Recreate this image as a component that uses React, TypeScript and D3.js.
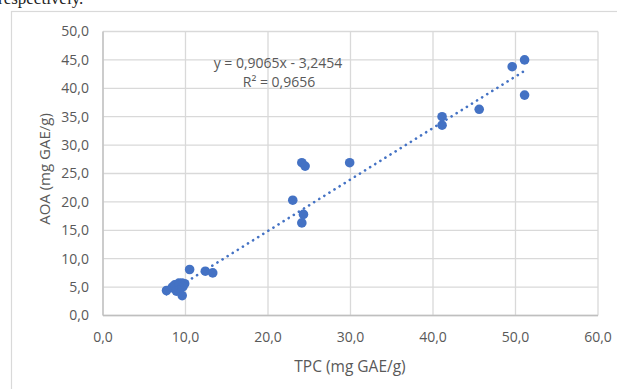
import React from 'react';
import * as d3 from 'd3';

// TPC (x) and AOA (y) values, mg GAE/g
const tpc = [51.1, 49.6, 51.1, 45.6, 41.1, 41.1, 29.9, 24.1, 24.5, 23.0, 24.3, 24.1, 10.5, 12.4, 13.3, 7.7, 8.4, 8.7, 9.2, 9.6, 9.9, 9.7, 8.9, 9.2, 9.6];
const aoa = [45.0, 43.8, 38.8, 36.3, 35.0, 33.5, 26.9, 26.9, 26.3, 20.3, 17.8, 16.3, 8.1, 7.8, 7.5, 4.4, 5.0, 5.4, 5.7, 5.7, 5.6, 5.1, 4.3, 4.4, 3.5];
const xTicks = [0, 10, 20, 30, 40, 50, 60];
const yTicks = [0, 5, 10, 15, 20, 25, 30, 35, 40, 45, 50];
const slope = 0.9065;
const intercept = -3.2454;
const eqLabel = 'y = 0,9065x - 3,2454';
const r2Label = 'R² = 0,9656';

const W = 617;
const H = 389;
const plot = { left: 103, right: 598, top: 31.5, bottom: 315.5 };
const blue = '#4472C4';
const grid = '#d9d9d9';
const txt = '#595959';
const font = '"Open Sans", Calibri, sans-serif';

const fmt = (v: number) => v.toFixed(1).replace('.', ',');

export default function App() {
  const x = d3.scaleLinear().domain([0, 60]).range([plot.left, plot.right]);
  const y = d3.scaleLinear().domain([0, 50]).range([plot.bottom, plot.top]);

  const xMin = d3.min(tpc) as number;
  const xMax = d3.max(tpc) as number;
  const trend = d3.line<number>()
    .x(d => x(d))
    .y(d => y(slope * d + intercept));

  return (
    <svg width={W} height={H} style={{ position: 'absolute', left: 0, top: 0, background: '#fff' }}>
      {/* text above the figure, cut off by the page */}
      <text x={-2} y={4} fontFamily='"Liberation Serif", serif' fontSize={17} fill="#222">respectively.</text>
      <rect x={11.5} y={11.5} width={640} height={420} fill="#fff" stroke={grid} strokeWidth={1.2} />

      {/* gridlines */}
      {yTicks.map(t => (
        <line key={'gy' + t} x1={plot.left} x2={plot.right} y1={y(t)} y2={y(t)} stroke={grid} strokeWidth={1.3} />
      ))}
      {xTicks.map(t => (
        <line key={'gx' + t} x1={x(t)} x2={x(t)} y1={plot.top} y2={plot.bottom} stroke={grid} strokeWidth={1.3} />
      ))}
      <line x1={plot.left} x2={plot.right} y1={plot.bottom} y2={plot.bottom} stroke="#bfbfbf" strokeWidth={1.3} />
      <line x1={plot.left} x2={plot.left} y1={plot.top} y2={plot.bottom} stroke="#bfbfbf" strokeWidth={1.3} />

      {/* tick labels */}
      {yTicks.map(t => (
        <text key={'ty' + t} x={89} y={y(t)} dy="0.35em" textAnchor="end" fontFamily={font} fontSize={14} fill={txt}>{fmt(t)}</text>
      ))}
      {xTicks.map(t => (
        <text key={'tx' + t} x={x(t)} y={337} dy="0.35em" textAnchor="middle" fontFamily={font} fontSize={14} fill={txt}>{fmt(t)}</text>
      ))}

      {/* axis titles */}
      <text x={350} y={367} dy="0.35em" textAnchor="middle" fontFamily={font} fontSize={15.5} fill={txt}>TPC (mg GAE/g)</text>
      <text transform="translate(45,169) rotate(-90)" dy="0.35em" textAnchor="middle" fontFamily={font} fontSize={15} fill={txt}>AOA (mg GAE/g)</text>

      {/* points */}
      {tpc.map((v, i) => (
        <circle key={'p' + i} cx={x(v)} cy={y(aoa[i])} r={4.8} fill={blue} />
      ))}

      {/* linear trendline */}
      <path d={trend([xMin, xMax]) ?? ''} fill="none" stroke={blue} strokeWidth={2.6} strokeDasharray="0.1 5.9" strokeLinecap="round" />

      <text x={278} y={63} dy="0.35em" textAnchor="middle" fontFamily={font} fontSize={14} fill={txt}>{eqLabel}</text>
      <text x={279} y={82} dy="0.35em" textAnchor="middle" fontFamily={font} fontSize={14} fill={txt}>{r2Label}</text>
    </svg>
  );
}
